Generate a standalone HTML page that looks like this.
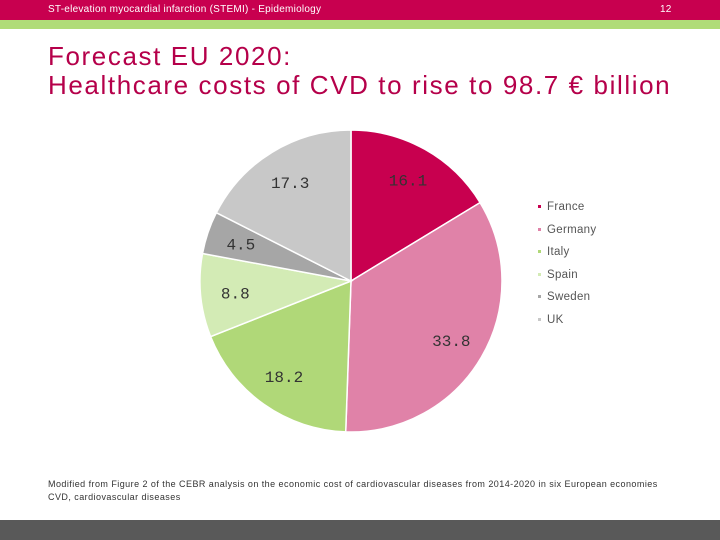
<!DOCTYPE html>
<html><head><meta charset="utf-8"><style>
body{margin:0;width:720px;height:540px;overflow:hidden;background:#fff;font-family:"Liberation Sans",sans-serif;position:relative}
.hdr{position:absolute;left:0;top:0;width:720px;height:20px;background:#c8004f;color:#fff;font-size:10px;letter-spacing:0.25px}
.grn{position:absolute;left:0;top:20px;width:720px;height:9px;background:#b0dc78}
.title{position:absolute;left:48px;top:42px;color:#b5004a;font-size:26px;line-height:29px;letter-spacing:1.6px}
.foot{position:absolute;left:48px;top:478px;font-size:9px;color:#333;line-height:13px;letter-spacing:0.45px}
.bot{position:absolute;left:0;top:520px;width:720px;height:20px;background:#595959}
.leg{position:absolute;left:538px;font-size:11.5px;color:#555;letter-spacing:0.3px}
.leg span{display:inline-block;width:3px;height:3px;margin-right:6px;vertical-align:middle}
</style></head><body>
<div class="hdr"><span style="position:absolute;left:48px;top:4px">ST-elevation myocardial infarction (STEMI) - Epidemiology</span><span style="position:absolute;left:660px;top:4px">12</span></div>
<div class="grn"></div>
<div class="title">Forecast EU 2020:<br>Healthcare costs of CVD to rise to 98.7 € billion</div>
<svg id="pie" width="720" height="540" style="position:absolute;left:0;top:0"></svg>
<div id="legend"></div>
<div class="foot">Modified from Figure 2 of the CEBR analysis on the economic cost of cardiovascular diseases from 2014-2020 in six European economies<br>CVD, cardiovascular diseases</div>
<div class="bot"></div>
<script>
const countries=["France","Germany","Italy","Spain","Sweden","UK"];
const values=[16.1,33.8,18.2,8.8,4.5,17.3];
const colors=["#c8004f","#e082a8","#b0d878","#d3ebb5","#a6a6a6","#c8c8c8"];
const cx=351,cy=281,r=151;
const svg=document.getElementById('pie');
const ns="http://www.w3.org/2000/svg";
const total=values.reduce((a,b)=>a+b,0);
let a0=0;
function pt(a,rr){return [cx+rr*Math.sin(a),cy-rr*Math.cos(a)];}
values.forEach((v,i)=>{
  const a1=a0+v/total*2*Math.PI;
  const p0=pt(a0,r),p1=pt(a1,r);
  const path=document.createElementNS(ns,'path');
  path.setAttribute('d',`M${cx},${cy}L${p0[0]},${p0[1]}A${r},${r} 0 ${a1-a0>Math.PI?1:0} 1 ${p1[0]},${p1[1]}Z`);
  path.setAttribute('fill',colors[i]);
  path.setAttribute('stroke','#fff');
  path.setAttribute('stroke-width','1.5');
  
  
  svg.appendChild(path);
  const lp=pt((a0+a1)/2,r*0.77);
  const t=document.createElementNS(ns,'text');
  t.setAttribute('x',lp[0]);t.setAttribute('y',lp[1]+6);
  t.setAttribute('text-anchor','middle');
  t.setAttribute('font-family','Liberation Mono, monospace');
  t.setAttribute('font-size','16');
  t.setAttribute('fill','#333');
  t.textContent=v.toFixed(1);
  
  
  svg.appendChild(t);
  a0=a1;
});
const leg=document.getElementById('legend');
countries.forEach((c,i)=>{
  const d=document.createElement('div');
  d.className='leg';d.style.top=(201+i*22.5)+'px';
  d.innerHTML='<span style="background:'+colors[i]+'"></span>'+c;
  
  
  leg.appendChild(d);
});
</script>
</body></html>
